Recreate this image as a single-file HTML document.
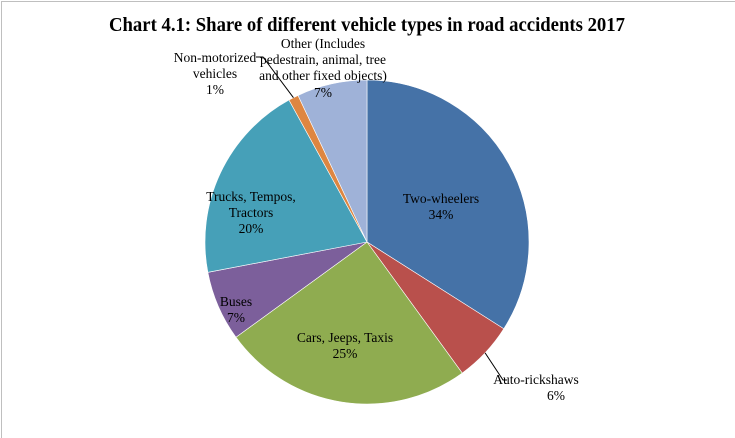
<!DOCTYPE html>
<html><head><meta charset="utf-8"><style>
html,body{margin:0;padding:0;background:#fff}
svg{display:block}
text{font-family:"Liberation Serif",serif;fill:#000}
</style></head><body>
<svg width="735" height="438" viewBox="0 0 735 438">
<rect x="1.5" y="1.5" width="740" height="445" fill="#fff" stroke="#bfbfbf" stroke-width="1"/>
<text x="367" y="31" text-anchor="middle" font-size="20" font-weight="bold" textLength="516" lengthAdjust="spacingAndGlyphs">Chart 4.1: Share of different vehicle types in road accidents 2017</text>
<g id="slices"></g>
<g id="labels"></g>
</svg>
<script>
const categories=["Two-wheelers","Auto-rickshaws","Cars, Jeeps, Taxis","Buses","Trucks, Tempos, Tractors","Non-motorized vehicles","Other (Includes pedestrain, animal, tree and other fixed objects)"];
const values=[34,6,25,7,20,1,7];
const colors=["#4572a7","#b9504c","#8fac50","#7c5f9b","#46a0b8","#de8641","#9fb2d8"];
const cx=367,cy=242,r=162;
const ns="http://www.w3.org/2000/svg";
const total=values.reduce((a,b)=>a+b,0);
function pt(frac,rad){const a=frac*2*Math.PI;return [cx+rad*Math.sin(a),cy-rad*Math.cos(a)];}
const g=document.getElementById('slices');
let acc=0;
values.forEach((v,i)=>{
  const s=acc/total,e=(acc+v)/total;acc+=v;
  const [x1,y1]=pt(s,r),[x2,y2]=pt(e,r);
  const p=document.createElementNS(ns,'path');
  p.setAttribute('d',`M${cx},${cy}L${x1},${y1}A${r},${r} 0 ${e-s>0.5?1:0} 1 ${x2},${y2}Z`);
  p.setAttribute('fill',colors[i]);
  p.setAttribute('stroke','#fff');p.setAttribute('stroke-width','0.6');
  
  
  g.appendChild(p);
});
const lg=document.getElementById('labels');
const labelLines=[
 [["Two-wheelers",441,203],[values[0]+"%",441,219]],
 [["Auto-rickshaws",536,384],[values[1]+"%",556,400]],
 [["Cars, Jeeps, Taxis",345,342],[values[2]+"%",345,358]],
 [["Buses",236,306],[values[3]+"%",236,322]],
 [["Trucks, Tempos,",251,201],["Tractors",251,217],[values[4]+"%",251,233]],
 [["Non-motorized",215,62],["vehicles",215,78],[values[5]+"%",215,94]],
 [["Other (Includes",323,48],["pedestrain, animal, tree",323,64],["and other fixed objects)",323,80],[values[6]+"%",323,97]]
];
labelLines.forEach((lines,i)=>{
  lines.forEach(([t,x,y])=>{
    const el=document.createElementNS(ns,'text');
    el.setAttribute('x',x);el.setAttribute('y',y);
    el.setAttribute('text-anchor','middle');el.setAttribute('font-size','13.5');
    el.textContent=t;
    
    
    lg.appendChild(el);
  });
});
function leader(d,name){const p=document.createElementNS(ns,'path');p.setAttribute('d',d);p.setAttribute('fill','none');p.setAttribute('stroke','#000');p.setAttribute('stroke-width','1');


lg.appendChild(p);}
const [ax,ay]=pt((values[0]+values[1]*0.5)/total,r);
leader(`M${ax},${ay}L503,380L507,380`,'auto-rickshaws-leader');
const [nx,ny]=pt((total-values[6]-values[5]*0.5)/total,r);
leader(`M256,57L263,57L${nx},${ny}`,'non-motorized-leader');
</script>
</body></html>
